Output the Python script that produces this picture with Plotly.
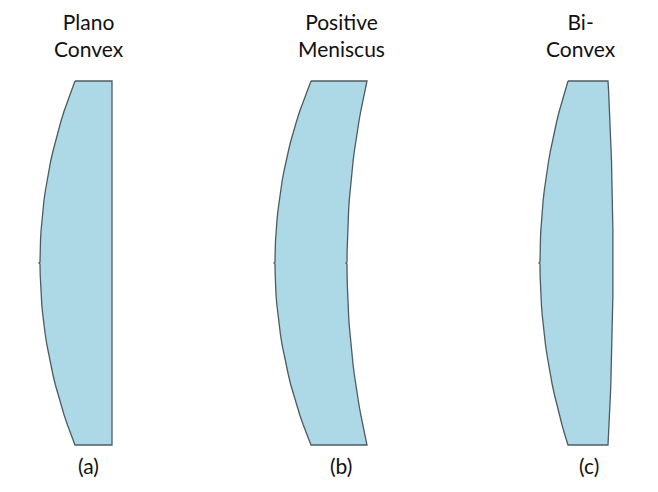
import plotly.graph_objects as go

# outlines, axes are in image pixels
lens_y = [81, 91, 101, 111, 121, 131, 141, 151, 161, 171, 181, 191, 201, 211, 221, 231, 241, 251,
          262, 263, 264,
          275, 285, 295, 305, 315, 325, 335, 345, 355, 365, 375, 385, 395, 405, 415, 425, 435, 445]

# upper half of each edge, top down to the small nub at mid height
plano_left = [75, 71.1, 67.5, 64.1, 61, 58.1, 55.4, 53, 50.7, 48.7, 46.9, 45.3, 43.9, 42.8, 41.8, 41, 40.5, 40.2, 40, 39]
meniscus_left = [311, 307, 303.3, 299.8, 296.6, 293.6, 290.8, 288.4, 286, 284, 282.1, 280.5, 279, 277.9, 276.9, 276, 275.5, 275.2, 275, 274]
meniscus_right = [367, 364.8, 362.7, 360.8, 359, 357.3, 355.8, 354.4, 353.1, 352, 350.9, 350, 349.2, 348.6, 348, 347.6, 347.3, 347.1, 347, 346]
biconvex_left = [568, 564.9, 562, 559.3, 556.8, 554.5, 552.3, 550.4, 548.6, 547, 545.5, 544.2, 543.1, 542.2, 541.4, 540.8, 540.4, 540.1, 540, 539]
biconvex_right = [608, 608.6, 609.1, 609.6, 610, 610.4, 610.8, 611.1, 611.5, 611.8, 612, 612.2, 612.4, 612.6, 612.7, 612.9, 612.9, 613, 613, 613]
plano_right = [112] * 20

labels = [
    ("Plano<br>Convex", 88.5, 35),
    ("Positive<br>Meniscus", 341, 35),
    ("Bi-<br>Convex", 581, 35),
    ("(a)", 88, 465),
    ("(b)", 341, 465),
    ("(c)", 589, 465),
]

FILL = "#ADD8E6"
EDGE = "#4d5b61"


def full_edge(top):
    return top + top[-2::-1]


def lens(left, right):
    xs = full_edge(left) + full_edge(right)[::-1]
    ys = lens_y + lens_y[::-1]
    return go.Scatter(
        x=xs + [xs[0]],
        y=ys + [ys[0]],
        mode="lines",
        fill="toself",
        fillcolor=FILL,
        line=dict(color=EDGE, width=1.3),
        hoverinfo="skip",
    )


fig = go.Figure()
fig.add_trace(lens(plano_left, plano_right))
fig.add_trace(lens(meniscus_left, meniscus_right))
fig.add_trace(lens(biconvex_left, biconvex_right))

for text, x, y in labels:
    fig.add_annotation(
        x=x, y=y, text=text, showarrow=False,
        font=dict(family="Lato", size=21, color="#111111"),
        align="center",
    )

fig.update_layout(
    width=658,
    height=492,
    margin=dict(l=0, r=0, t=0, b=0),
    showlegend=False,
    paper_bgcolor="white",
    plot_bgcolor="white",
    xaxis=dict(range=[0, 658], visible=False),
    yaxis=dict(range=[492, 0], visible=False),
)

# page margin would otherwise push the figure 8px off
fig.write_html(
    "out.html",
    config={"displayModeBar": False},
    post_script="document.body.style.margin = '0';",
)
